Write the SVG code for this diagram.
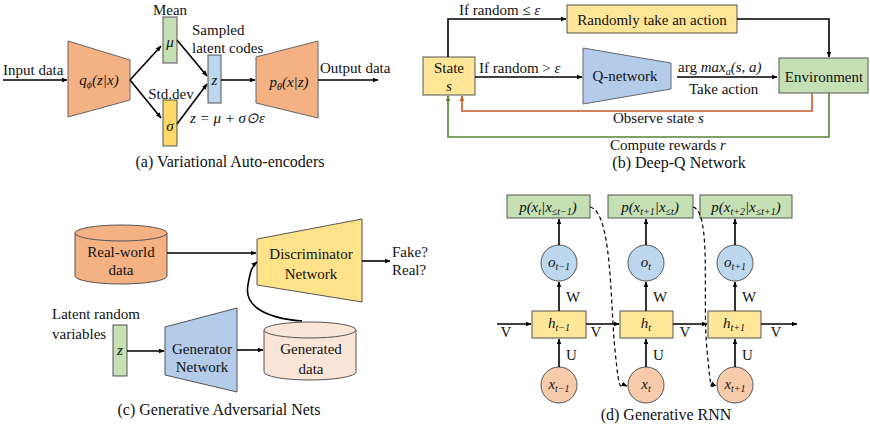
<svg xmlns="http://www.w3.org/2000/svg" width="870" height="438" viewBox="0 0 870 438" font-family="'Liberation Serif','Times New Roman',serif">
<defs>
<marker id="ah" viewBox="0 0 10 10" refX="9" refY="5" markerWidth="6" markerHeight="6" orient="auto-start-reverse" markerUnits="userSpaceOnUse"><path d="M0,1 L10,5 L0,9 Z" fill="#000"/></marker>
<marker id="ao" viewBox="0 0 10 10" refX="9" refY="5" markerWidth="6" markerHeight="6" orient="auto" markerUnits="userSpaceOnUse"><path d="M0,1 L10,5 L0,9 Z" fill="#C55A28"/></marker>
<marker id="ag" viewBox="0 0 10 10" refX="9" refY="5" markerWidth="6" markerHeight="6" orient="auto" markerUnits="userSpaceOnUse"><path d="M0,1 L10,5 L0,9 Z" fill="#548235"/></marker>
</defs>
<style>
text{font-family:"Liberation Serif","Times New Roman",serif;fill:#111;font-size:15px}
.m{font-style:italic}
.c{text-anchor:middle}
.cap{font-size:16px;text-anchor:middle}
.ln{fill:none;stroke:#000;stroke-width:1.6}
.arr{marker-end:url(#ah)}
.box{stroke:#555;stroke-width:1}
.trap{stroke:#666;stroke-width:1}
.or{fill:#F4B183}.pe{fill:#FBE5D6}.gr{fill:#C5E0B4}.ye{fill:#FFE699}.ys{fill:#FFD966}.bl{fill:#BDD7EE}.bq{fill:#B4CBEA}.xr{fill:#F8CBAD}
</style>
<rect width="870" height="438" fill="#fff"/>

<!-- (a) VAE -->
<g id="vae-encoder"><polygon class="trap or" points="68,41 130,60 130,100 68,117"/>
<text class="m c" x="99" y="85">q<tspan dy="3" font-size="10">ϕ</tspan><tspan dy="-3">(z|x)</tspan></text></g>
<g id="vae-mean"><rect class="box gr" x="163" y="17" width="14" height="46"/><text x="170" y="15" class="c">Mean</text><text class="m c" x="170" y="47">μ</text></g>
<g id="vae-std"><rect class="box ys" x="163" y="100" width="14" height="46"/><text x="171" y="99" class="c">Std.dev</text><text class="m c" x="170" y="131">σ</text></g>
<g id="vae-z"><rect class="box bl" x="208" y="55" width="13" height="48"/><text class="m c" x="214.5" y="85">z</text>
<text x="192" y="35">Sampled</text><text x="192" y="53">latent codes</text>
<text class="m" x="190" y="123">z = μ + σ⊙ε</text></g>
<g id="vae-decoder"><polygon class="trap or" points="256,57 318,41 318,118 256,103"/>
<text class="m c" x="289" y="87">p<tspan dy="3" font-size="10">θ</tspan><tspan dy="-3">(x|z)</tspan></text></g>
<g id="vae-io"><text x="3" y="75">Input data</text><text x="320" y="73">Output data</text></g>

<!-- (b) DQN -->
<g id="dqn-random"><rect class="box ye" x="567" y="5" width="170" height="28"/><text class="c" x="652" y="25">Randomly take an action</text></g>
<g id="dqn-state"><rect class="box ye" x="423" y="57" width="52" height="38"/><text class="c" x="449" y="73">State</text><text class="c m" x="449" y="91">s</text></g>
<g id="dqn-q"><polygon class="trap bq" points="583,48 671,63 671,89 583,104"/><text class="c" x="625" y="81">Q-network</text></g>
<g id="dqn-env"><rect class="box gr" x="779" y="58" width="89" height="35"/><text class="c" x="824" y="82">Environment</text></g>

<!-- (c) GAN -->
<g id="gan-real"><path class="box or" d="M75,233 V276 A46,8 0 0 0 167,276 V233 Z"/><ellipse class="box or" cx="121" cy="233" rx="46" ry="8"/>
<text class="c" x="121" y="257">Real-world</text><text class="c" x="121" y="275">data</text></g>
<g id="gan-z"><rect class="box gr" x="113" y="325" width="14" height="51"/><text class="c m" x="120" y="355" font-size="13">z</text>
<text x="52" y="319">Latent random</text><text x="52" y="339">variables</text></g>
<g id="gan-gen"><polygon class="box bq" points="165,327 237,308 237,392 165,375"/><text class="c" x="202" y="354">Generator</text><text class="c" x="202" y="372">Network</text></g>
<g id="gan-gdata"><path class="box pe" d="M264,330 V372 A46,8 0 0 0 356,372 V330 Z"/><ellipse class="box pe" cx="310" cy="330" rx="46" ry="8"/>
<text class="c" x="311" y="354">Generated</text><text class="c" x="311" y="374">data</text></g>
<g id="gan-disc"><polygon class="box" fill="#FFE28A" points="257,239 362,219 362,302 257,285"/><text class="c" x="311" y="259">Discriminator</text><text class="c" x="311" y="279">Network</text></g>
<g id="gan-out"><text x="392" y="257">Fake?</text><text x="392" y="275">Real?</text></g>

<!-- (d) RNN -->
<g id="rnn-p1"><rect class="box gr" x="507" y="195" width="83" height="23"/><text class="m c" x="548" y="212" font-size="14">p(x<tspan dy="3" font-size="10">t</tspan><tspan dy="-3">|x</tspan><tspan dy="3" font-size="10">≤t−1</tspan><tspan dy="-3">)</tspan></text></g>
<g id="rnn-p2"><rect class="box gr" x="608" y="195" width="85" height="23"/><text class="m c" x="650" y="212" font-size="14">p(x<tspan dy="3" font-size="10">t+1</tspan><tspan dy="-3">|x</tspan><tspan dy="3" font-size="10">≤t</tspan><tspan dy="-3">)</tspan></text></g>
<g id="rnn-p3"><rect class="box gr" x="700" y="195" width="92" height="23"/><text class="m c" x="746" y="212" font-size="14">p(x<tspan dy="3" font-size="10">t+2</tspan><tspan dy="-3">|x</tspan><tspan dy="3" font-size="10">≤t+1</tspan><tspan dy="-3">)</tspan></text></g>
<g id="rnn-o1"><circle class="box bl" cx="559" cy="263" r="18"/><text class="m c" x="559" y="267" font-size="14">o<tspan dy="3" font-size="10">t−1</tspan></text></g>
<g id="rnn-o2"><circle class="box bl" cx="646" cy="263" r="18"/><text class="m c" x="646" y="267" font-size="14">o<tspan dy="3" font-size="10">t</tspan></text></g>
<g id="rnn-o3"><circle class="box bl" cx="735" cy="263" r="18"/><text class="m c" x="735" y="267" font-size="14">o<tspan dy="3" font-size="10">t+1</tspan></text></g>
<g id="rnn-h1"><rect class="box ye" x="532" y="311" width="54" height="27"/><text class="m c" x="559" y="328" font-size="14">h<tspan dy="3" font-size="10">t−1</tspan></text></g>
<g id="rnn-h2"><rect class="box ye" x="620" y="311" width="53" height="27"/><text class="m c" x="646" y="328" font-size="14">h<tspan dy="3" font-size="10">t</tspan></text></g>
<g id="rnn-h3"><rect class="box ye" x="708" y="311" width="53" height="27"/><text class="m c" x="734" y="328" font-size="14">h<tspan dy="3" font-size="10">t+1</tspan></text></g>
<g id="rnn-x1"><circle class="box xr" cx="559" cy="385" r="18"/><text class="m c" x="559" y="389" font-size="14">x<tspan dy="3" font-size="10">t−1</tspan></text></g>
<g id="rnn-x2"><circle class="box xr" cx="646" cy="385" r="18"/><text class="m c" x="646" y="389" font-size="14">x<tspan dy="3" font-size="10">t</tspan></text></g>
<g id="rnn-x3"><circle class="box xr" cx="735" cy="385" r="18"/><text class="m c" x="735" y="389" font-size="14">x<tspan dy="3" font-size="10">t+1</tspan></text></g>

<!-- connectors -->
<g id="connectors">
<path class="ln arr" d="M3,80 H67"/>
<path class="ln arr" d="M130,80 L161,46"/>
<path class="ln arr" d="M130,80 L161,118"/>
<path class="ln arr" d="M177,40 L207,76"/>
<path class="ln arr" d="M177,124 L207,84"/>
<path class="ln arr" d="M221,80 H255"/>
<path class="ln arr" d="M318,80 H378"/>

<path class="ln arr" d="M448,57 V19 H566"/>
<path class="ln arr" d="M737,19 H829 V57"/>
<path class="ln arr" d="M475,77 H582"/>
<path class="ln arr" d="M677,77 H777"/>
<path fill="none" stroke="#C55A28" stroke-width="1.6" marker-end="url(#ao)" d="M812,93 V111 H462 V96"/>
<path fill="none" stroke="#548235" stroke-width="1.6" marker-end="url(#ag)" d="M829,93 V137 H448 V96"/>

<path class="ln arr" d="M167,253 H256"/>
<path class="ln arr" d="M362,261 H390"/>
<path class="ln arr" d="M127,351 H164"/>
<path class="ln arr" d="M237,350 H263"/>
<path class="ln arr" d="M302,321 C262,318 244,304 248,285 C250,272 252,266 257,262"/>

<path class="ln arr" d="M497,324 H531"/>
<path class="ln arr" d="M586,324 H619"/>
<path class="ln arr" d="M673,324 H707"/>
<path class="ln arr" d="M761,324 H797"/>
<path class="ln arr" d="M559,311 V282"/>
<path class="ln arr" d="M646,311 V282"/>
<path class="ln arr" d="M735,311 V282"/>
<path class="ln arr" d="M559,245 V219"/>
<path class="ln arr" d="M646,245 V219"/>
<path class="ln arr" d="M735,245 V219"/>
<path class="ln arr" d="M559,367 V339"/>
<path class="ln arr" d="M646,367 V339"/>
<path class="ln arr" d="M735,367 V339"/>
<path fill="none" stroke="#000" stroke-width="1.2" stroke-dasharray="4,3" marker-end="url(#ah)" d="M590,207 C612,212 610,300 615,350 S620,383 627,386"/>
<path fill="none" stroke="#000" stroke-width="1.2" stroke-dasharray="4,3" marker-end="url(#ah)" d="M693,207 C712,212 702,300 707,350 S710,383 716,386"/>
</g>

<g id="labels">
<text x="459" y="15">If random ≤ <tspan class="m">ε</tspan></text>
<text x="479" y="73">If random &gt; <tspan class="m">ε</tspan></text>
<text x="678" y="72">arg <tspan class="m">max<tspan dy="3" font-size="10">a</tspan><tspan dy="-3">(s, a)</tspan></tspan></text>
<text x="689" y="94">Take action</text>
<text x="613" y="123">Observe state <tspan class="m">s</tspan></text>
<text x="610" y="150">Compute rewards <tspan class="m">r</tspan></text>
<text x="566" y="302">W</text><text x="653" y="302">W</text><text x="742" y="302">W</text>
<text x="566" y="360">U</text><text x="653" y="360">U</text><text x="742" y="360">U</text>
<text class="c" x="506" y="337">V</text><text class="c" x="596" y="337">V</text><text class="c" x="685" y="337">V</text><text class="c" x="776" y="337">V</text>
</g>

<g id="captions">
<text class="cap" x="230" y="167">(a) Variational Auto-encoders</text>
<text class="cap" x="679" y="168">(b) Deep-Q Network</text>
<text class="cap" x="219" y="415">(c) Generative Adversarial Nets</text>
<text class="cap" x="666" y="420">(d) Generative RNN</text>
</g>
</svg>
